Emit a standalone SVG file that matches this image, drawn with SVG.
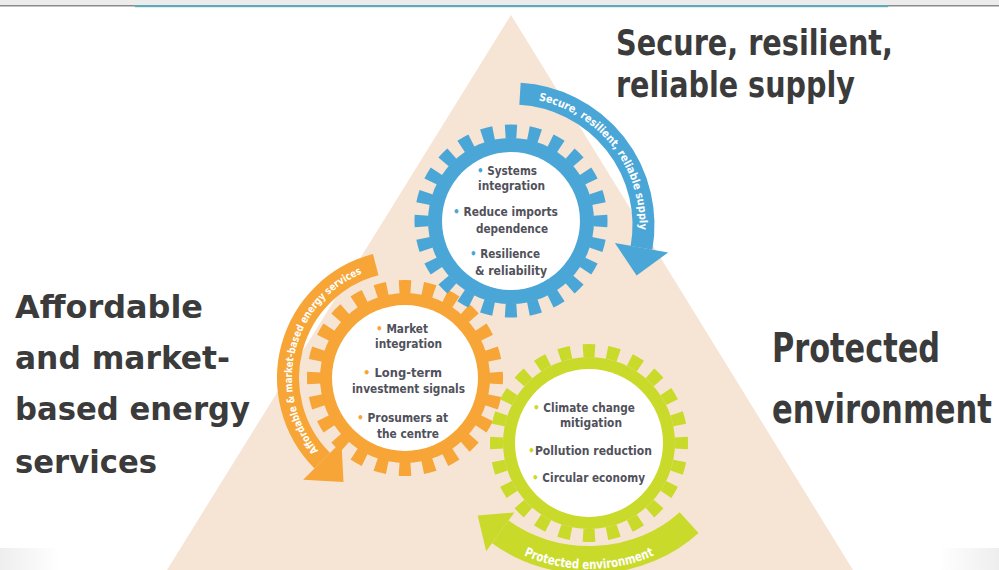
<svg xmlns="http://www.w3.org/2000/svg" width="999" height="570" viewBox="0 0 999 570">
  <defs>
    <style>
      .big { font-family: "DejaVu Sans Condensed", "DejaVu Sans", sans-serif; font-stretch: condensed; font-weight: bold; fill: #3b3b3b; }
      .gt { font-family: "DejaVu Sans Condensed", "DejaVu Sans", sans-serif; font-stretch: condensed; font-weight: bold; font-size: 12px; fill: #51515b; text-anchor: middle; }
      .at { font-family: "DejaVu Sans Condensed", "DejaVu Sans", sans-serif; font-stretch: condensed; font-weight: bold; fill: #ffffff; }
      .teeth { fill: none; stroke-dasharray: 1 1; stroke-dashoffset: 0.5; }
      .blue { fill: #4aa6d6; }
      .orange { fill: #f6a536; }
      .green { fill: #c9da2a; }
      .bs { stroke: #4aa6d6; }
      .os { stroke: #f6a536; }
      .gs { stroke: #c9da2a; }
    </style>
    <linearGradient id="fadeL" x1="0" y1="0" x2="1" y2="0">
      <stop offset="0" stop-color="#eeeeee"/>
      <stop offset="1" stop-color="#eeeeee" stop-opacity="0"/>
    </linearGradient>
    <linearGradient id="fadeR" x1="1" y1="0" x2="0" y2="0">
      <stop offset="0" stop-color="#eeeeee"/>
      <stop offset="1" stop-color="#eeeeee" stop-opacity="0"/>
    </linearGradient>
    <path id="bluePath" d="M 538.5 100.3 A 127.5 127.5 0 0 1 639.3 231.7"/>
    <path id="orangePath" d="M 318.4 450.6 A 113 113 0 0 1 366.4 271.8"/>
    <path id="greenPath" d="M 451.8 484.1 A 146 129 0 0 0 726.2 484.1"/>
  </defs>

  <rect x="0" y="0" width="999" height="570" fill="#ffffff"/>
  <!-- top band -->
  <rect x="0" y="0" width="999" height="5" fill="#ececec"/>
  <rect x="0" y="5" width="999" height="1.5" fill="#8a8a8a"/>
  <rect x="135" y="5" width="753" height="2.2" fill="#62a9b6"/>
  <!-- bottom corner shading -->
  <rect x="0" y="548" width="60" height="22" fill="url(#fadeL)"/>
  <rect x="939" y="548" width="60" height="22" fill="url(#fadeR)"/>

  <!-- triangle background -->
  <polygon id="triangle" points="511,15 167,570 853,570" fill="#f6e4d4"/>

  <!-- titles -->
  <g id="title-secure">
    <text class="big" font-size="35" x="616" y="55" textLength="277" lengthAdjust="spacingAndGlyphs">Secure, resilient,</text>
    <text class="big" font-size="35" x="616" y="97" textLength="239" lengthAdjust="spacingAndGlyphs">reliable supply</text>
  </g>
  <g id="title-affordable">
    <text class="big" font-size="32" x="15" y="318" textLength="188" lengthAdjust="spacingAndGlyphs">Affordable</text>
    <text class="big" font-size="32" x="15" y="369" textLength="215" lengthAdjust="spacingAndGlyphs">and market-</text>
    <text class="big" font-size="32" x="15" y="420" textLength="235" lengthAdjust="spacingAndGlyphs">based energy</text>
    <text class="big" font-size="32" x="15" y="473" textLength="142" lengthAdjust="spacingAndGlyphs">services</text>
  </g>
  <g id="title-protected">
    <text class="big" font-size="40" x="772" y="362" textLength="168" lengthAdjust="spacingAndGlyphs">Protected</text>
    <text class="big" font-size="40" x="772" y="423" textLength="220" lengthAdjust="spacingAndGlyphs">environment</text>
  </g>

  <!-- gears -->
  <g id="gear-orange">
    <circle class="orange" cx="405" cy="378" r="85"/>
    <circle class="teeth os" cx="405" cy="378" r="91" stroke-width="14" pathLength="48"/>
    <circle cx="405" cy="378" r="73" fill="#ffffff"/>
    <text class="gt" x="402" y="333" textLength="52" lengthAdjust="spacingAndGlyphs"><tspan fill="#f6a536">•</tspan> Market</text>
    <text class="gt" x="408.5" y="348" textLength="67" lengthAdjust="spacingAndGlyphs">integration</text>
    <text class="gt" x="402.5" y="377" textLength="79" lengthAdjust="spacingAndGlyphs"><tspan fill="#f6a536">•</tspan> Long-term</text>
    <text class="gt" x="408.5" y="393" textLength="113" lengthAdjust="spacingAndGlyphs">investment signals</text>
    <text class="gt" x="402.5" y="422" textLength="91" lengthAdjust="spacingAndGlyphs"><tspan fill="#f6a536">•</tspan> Prosumers at</text>
    <text class="gt" x="408" y="438" textLength="62" lengthAdjust="spacingAndGlyphs">the centre</text>
  </g>

  <g id="gear-green">
    <circle class="green" cx="589" cy="443" r="86"/>
    <circle class="teeth gs" cx="589" cy="443" r="92.5" stroke-width="13" pathLength="48"/>
    <circle cx="589" cy="443" r="74" fill="#ffffff"/>
    <text class="gt" x="584" y="412" textLength="102" lengthAdjust="spacingAndGlyphs"><tspan fill="#c9da2a">•</tspan> Climate change</text>
    <text class="gt" x="591" y="427" textLength="62" lengthAdjust="spacingAndGlyphs">mitigation</text>
    <text class="gt" x="590" y="455" textLength="124" lengthAdjust="spacingAndGlyphs"><tspan fill="#c9da2a">•</tspan>Pollution reduction</text>
    <text class="gt" x="588.5" y="482" textLength="113" lengthAdjust="spacingAndGlyphs"><tspan fill="#c9da2a">•</tspan> Circular economy</text>
  </g>

  <g id="gear-blue">
    <circle class="blue" cx="511" cy="221" r="83"/>
    <circle class="teeth bs" cx="511" cy="221" r="89.5" stroke-width="14" pathLength="48"/>
    <circle cx="511" cy="221" r="69" fill="#ffffff"/>
    <text class="gt" x="507" y="175" textLength="60" lengthAdjust="spacingAndGlyphs"><tspan fill="#4aa6d6">•</tspan> Systems</text>
    <text class="gt" x="511.5" y="190" textLength="67" lengthAdjust="spacingAndGlyphs">integration</text>
    <text class="gt" x="505.5" y="216" textLength="105" lengthAdjust="spacingAndGlyphs"><tspan fill="#4aa6d6">•</tspan> Reduce imports</text>
    <text class="gt" x="512" y="233" textLength="72" lengthAdjust="spacingAndGlyphs">dependence</text>
    <text class="gt" x="505" y="258" textLength="70" lengthAdjust="spacingAndGlyphs"><tspan fill="#4aa6d6">•</tspan> Resilience</text>
    <text class="gt" x="511" y="275" textLength="72" lengthAdjust="spacingAndGlyphs">&amp; reliability</text>
  </g>

  <!-- curved arrows -->
  <g id="connectors">
    <g id="arrow-blue">
      <path d="M 520.0 93.8 A 131.5 131.5 0 0 1 641.5 247.8" fill="none" class="bs" stroke-width="22"/>
      <polygon class="blue" points="614.9,243.1 668.1,252.5 636.6,275.4"/>
      <text class="at" font-size="11"><textPath href="#bluePath" textLength="178" lengthAdjust="spacingAndGlyphs">Secure, resilient, reliable supply</textPath></text>
    </g>
    <g id="arrow-orange">
      <path d="M 375.7 264.7 A 117 117 0 0 0 322.3 460.7" fill="none" class="os" stroke-width="22"/>
      <polygon class="orange" points="303.2,479.8 341.4,441.6 343.5,481.9"/>
      <text class="at" font-size="10.5"><textPath href="#orangePath" textLength="212" lengthAdjust="spacingAndGlyphs">Affordable &amp; market-based energy services</textPath></text>
    </g>
    <g id="arrow-green">
      <path d="M 689.1 522.6 A 138 120 0 0 1 500.3 531.9" fill="none" class="gs" stroke-width="28"/>
      <polygon class="green" points="486.2,551.3 514.4,512.5 477.7,515.4"/>
      <text class="at" font-size="13" text-anchor="middle"><textPath href="#greenPath" startOffset="50%" textLength="134" lengthAdjust="spacingAndGlyphs">Protected environment</textPath></text>
    </g>
  </g>
</svg>
